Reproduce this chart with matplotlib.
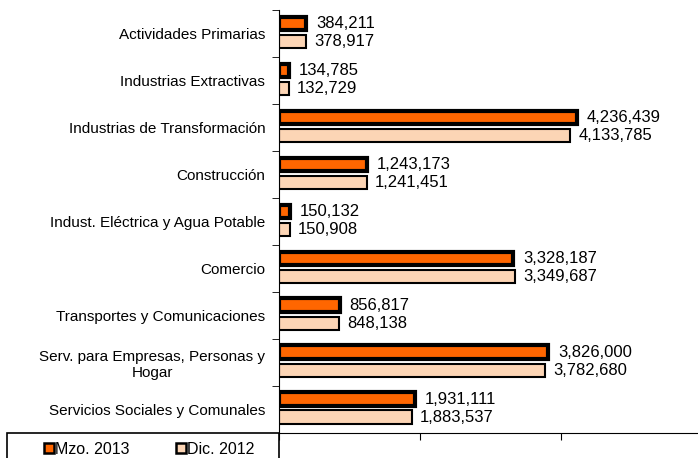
import matplotlib.pyplot as plt
import numpy as np
from matplotlib.patches import Rectangle
from matplotlib.lines import Line2D

plt.rcParams['font.family'] = ['Liberation Sans', 'DejaVu Sans']

categorias = ['Actividades Primarias', 'Industrias Extractivas', 'Industrias de Transformación',
              'Construcción', 'Indust. Eléctrica y Agua Potable', 'Comercio',
              'Transportes y Comunicaciones', 'Serv. para Empresas, Personas y\nHogar',
              'Servicios Sociales y Comunales']
mzo_2013 = [384211, 134785, 4236439, 1243173, 150132, 3328187, 856817, 3826000, 1931111]
dic_2012 = [378917, 132729, 4133785, 1241451, 150908, 3349687, 848138, 3782680, 1883537]

naranja = '#FF6600'
durazno = '#FCD5B5'

fig = plt.figure(figsize=(6.98, 4.58), dpi=100)
ax = fig.add_axes([0.4, 0.055, 0.6, 0.923])

y = np.arange(len(categorias))
h = 0.29
ax.barh(y - 0.215, mzo_2013, height=h, color=naranja, edgecolor='black', linewidth=3)
ax.barh(y + 0.17, dic_2012, height=h, color=durazno, edgecolor='black', linewidth=1.5)

for yi, v in zip(y, mzo_2013):
    ax.annotate(f'{v:,}', (v, yi - 0.215), xytext=(7, 0), textcoords='offset points',
                va='center', ha='left', fontsize=12)
for yi, v in zip(y, dic_2012):
    ax.annotate(f'{v:,}', (v, yi + 0.17), xytext=(6, 0), textcoords='offset points',
                va='center', ha='left', fontsize=12)

ax.set_ylim(len(categorias) - 0.5, -0.5)
ax.set_xlim(0, 5950000)
ax.set_yticks(y)
ax.set_yticklabels(categorias, fontsize=11, multialignment='center')
ax.set_yticks(np.arange(len(categorias) + 1) - 0.5, minor=True)
ax.tick_params(axis='y', which='major', length=0, pad=10)
ax.tick_params(axis='y', which='minor', length=5, direction='out')
ax.set_xticks([0, 2000000, 4000000])
ax.set_xticklabels([])
ax.tick_params(axis='x', length=5, direction='out')
ax.spines['top'].set_visible(False)
ax.spines['right'].set_visible(False)

# caja de la leyenda
fig.patches.append(Rectangle((7 / 698, -0.05), 272 / 698, 0.05 + 25 / 458,
                             transform=fig.transFigure, facecolor='white',
                             edgecolor='black', linewidth=1.2))
handles = [Line2D([], [], ls='none', marker='s', markersize=7, markerfacecolor=naranja,
                  markeredgecolor='black', markeredgewidth=1.8),
           Line2D([], [], ls='none', marker='s', markersize=7, markerfacecolor=durazno,
                  markeredgecolor='black', markeredgewidth=1.8)]
fig.legend(handles, ['Mzo. 2013', 'Dic. 2012'], loc='center left',
           bbox_to_anchor=(44 / 698, 1 - 449 / 458), ncol=2, frameon=False,
           fontsize=11.5, handlelength=0.6, handletextpad=0.1, columnspacing=2.9,
           borderpad=0, borderaxespad=0)

fig.savefig('out.png', dpi=100)
